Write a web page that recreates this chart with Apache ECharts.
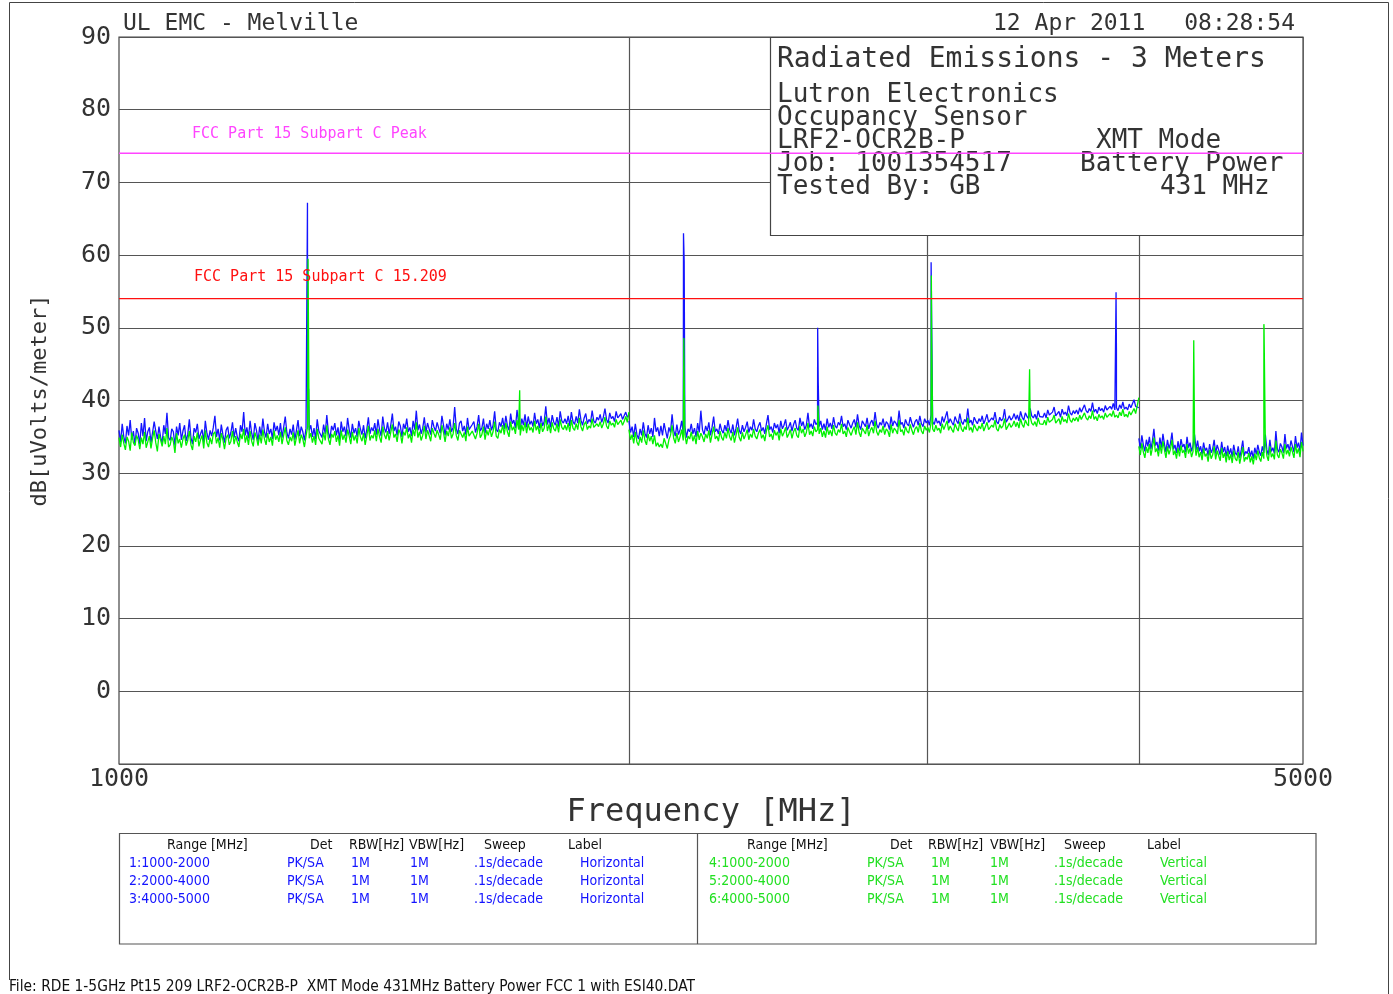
<!DOCTYPE html>
<html>
<head>
<meta charset="utf-8">
<script src="https://cdn.jsdelivr.net/npm/echarts@6/dist/echarts.min.js"></script>
<style>
html,body{margin:0;padding:0;background:#fff;}
#chart{width:1393px;height:994px;}
</style>
</head>
<body>
<div id="chart"></div>
<script>
// ---------------- DATA ----------------
const sweepRanges = [[1000, 2000], [2000, 4000], [4000, 5000]];

// Horizontal polarisation (blue), noise floor per range, dBuV/m
const horizNoise1 = [
35.9,34.3,36.8,35.0,34.1,36.5,35.2,37.3,34.6,35.8,33.9,36.2,35.5,34.0,36.9,35.1,37.6,34.4,35.7,36.3,
34.2,35.6,37.1,35.8,34.7,36.4,35.0,34.1,36.6,35.4,38.3,34.9,34.5,36.1,35.7,33.8,36.4,35.2,36.9,34.6,
35.8,36.6,34.4,35.3,37.4,34.9,34.0,36.2,35.6,36.8,34.7,35.4,36.0,34.3,37.2,35.5,34.6,35.9,35.1,36.3,
37.9,35.0,36.1,34.5,36.7,35.3,34.2,35.9,36.4,34.8,35.6,37.0,34.9,36.2,35.0,34.4,36.6,35.7,38.4,35.2,
36.3,34.8,37.2,35.5,34.6,36.9,35.9,34.4,36.4,35.1,37.5,35.7,34.9,36.8,35.4,36.1,34.7,37.0,35.8,36.5,
35.2,36.9,34.9,36.3,37.8,35.6,34.8,36.1,35.3,36.7,34.6,35.9,37.3,35.1,36.4,35.7,34.5,36.2,39.0,35.9,
36.6,35.0,36.2,34.7,37.4,35.8,36.0,34.9,36.7,35.4,38.0,35.6,34.8,36.5,35.9,36.9,35.2,36.3,34.6,37.1,
35.7,36.4,35.1,37.6,36.0,34.9,36.8,35.5,36.2,35.0,37.2,36.1,35.3,36.6,34.8,36.0,37.7,35.4,36.3,35.8,
36.9,35.3,37.4,36.0,35.1,37.8,36.2,35.6,37.0,35.4,36.6,38.2,35.8,36.4,35.2,37.1,36.5,35.0,36.8,36.1,
37.5,35.7,36.3,35.1,37.2,36.0,38.6,35.9,36.7,35.4,36.2,37.7,35.6,36.9,36.1,35.3,37.3,36.4,35.8,37.0,
36.2,35.5,37.9,36.6,35.2,36.8,36.0,37.4,35.7,36.3,39.1,36.1,35.4,36.9,37.2,35.8,36.5,35.3,37.6,36.0,
35.9,36.7,37.1,35.6,36.4,38.0,35.8,36.2,37.5,35.5,36.8,36.1,37.3,35.9,36.6,38.5,36.0,35.7,37.0,36.4,
37.6,36.1,37.9,36.5,35.9,38.2,36.8,37.3,36.2,38.7,36.9,36.0,37.5,36.6,38.1,36.3,37.8,36.7,37.2,36.4,
38.3,36.8,37.4,36.2,37.9,36.5,37.1,39.2,36.7,37.6,36.3,38.0,37.0,36.6,37.7,36.4,38.5,37.2,36.9,37.5,
36.8,37.9,36.5,38.4,37.1,36.7,37.8,36.9,38.8,37.3,36.6,37.6,38.2,36.8,37.4,37.0,38.6,37.2,36.9,37.7,
37.3,38.1,37.0,37.7,38.9,37.4,36.9,38.3,37.5,37.8,37.1,38.5,37.6,37.9,38.2,37.4,37.9,38.4,37.7,38.0
];
const horizNoise2 = [
37.2,35.6,36.4,35.0,36.8,35.3,34.7,36.1,35.2,37.0,35.5,34.9,36.6,35.4,36.2,35.0,37.6,35.7,36.3,35.1,
36.5,35.2,36.9,35.8,34.8,36.3,35.6,38.1,35.9,35.1,36.7,35.3,36.0,37.2,35.5,36.4,34.9,36.1,35.7,36.8,
35.4,36.2,35.0,36.9,35.6,38.6,36.0,35.3,36.5,35.8,37.0,35.2,36.3,37.8,35.7,36.1,35.4,36.8,35.9,35.5,
36.6,35.8,37.3,36.0,35.5,36.7,35.2,36.2,37.5,35.9,35.4,36.6,35.7,36.3,37.1,35.6,36.4,35.9,37.4,36.1,
35.7,36.5,37.0,35.8,36.3,35.4,36.8,38.0,36.0,36.4,35.6,36.9,36.2,36.7,35.5,37.2,36.1,36.6,37.4,35.9,
36.4,37.0,35.8,36.7,37.3,36.2,35.9,37.6,36.5,37.1,36.0,36.6,38.3,36.3,36.8,36.1,37.4,36.7,37.0,36.4,
37.2,36.0,36.8,35.9,37.5,36.3,36.9,36.1,37.7,36.5,36.2,37.0,36.6,37.9,36.4,36.8,36.0,37.3,36.7,36.2,
36.9,37.4,36.3,38.1,36.6,36.0,37.2,36.8,36.4,37.6,36.1,36.9,37.3,36.5,38.4,36.7,36.2,37.0,36.6,37.5,
36.3,37.1,36.8,36.0,37.8,36.5,37.2,36.9,36.4,38.6,36.7,37.0,36.2,37.4,36.8,36.5,37.7,36.9,36.3,37.1,
37.4,36.6,37.9,36.8,36.4,37.5,36.9,37.3,36.6,38.0,37.1,36.7,37.6,36.9,37.2,36.5,37.8,37.0,36.8,38.5,
36.9,37.5,37.0,36.6,37.8,37.2,36.8,38.2,37.1,36.7,37.4,37.0,38.9,36.9,37.3,36.6,37.7,37.2,36.8,37.5,
37.1,37.9,36.8,37.4,38.1,37.0,36.9,37.6,37.3,38.4,37.1,36.8,37.7,37.2,37.5,38.8,37.0,37.4,37.9,37.3,
37.6,38.2,37.4,38.0,37.2,38.5,37.7,37.3,38.3,37.8,37.5,38.9,37.9,37.6,38.1,37.4,38.6,37.8,38.0,37.7,
38.3,37.6,38.7,38.0,37.8,38.4,39.1,37.9,38.2,38.5,37.7,38.8,38.1,38.4,37.9,39.3,38.3,38.0,38.6,38.2,
38.7,38.1,39.0,38.4,38.2,39.4,38.6,38.3,38.9,38.5,39.7,38.4,38.8,38.2,39.1,38.6,38.9,38.4,39.3,38.7,
38.5,39.2,38.8,39.6,38.7,39.0,38.6,39.4,38.9,39.8,38.8,39.1,38.7,39.5,39.0,38.9,40.1,39.2,39.3,39.0
];
const horizNoise3 = [
34.8,33.4,35.2,33.9,33.0,34.6,33.7,35.0,33.3,34.4,36.1,33.8,34.3,33.1,34.9,33.5,35.4,34.0,32.9,34.6,
33.4,34.1,35.6,33.3,33.9,32.8,34.4,33.1,34.7,33.6,34.0,32.9,35.0,33.5,34.2,33.0,33.8,35.3,33.2,34.5,
33.0,33.7,32.6,34.2,33.1,33.5,32.4,34.0,32.8,33.3,34.6,32.7,33.9,33.2,32.5,34.3,32.9,33.6,32.3,33.8,
32.6,33.4,32.2,33.9,32.8,32.5,33.7,32.1,33.2,34.5,32.4,33.0,32.7,33.6,32.3,33.1,32.0,33.5,32.6,33.9,
32.9,32.4,33.7,32.8,35.3,33.2,32.5,34.6,33.0,33.5,32.7,35.8,33.3,32.9,34.1,33.6,32.8,35.4,33.4,34.0,
33.1,34.5,33.7,32.9,35.1,33.5,34.2,33.0,35.6,33.8
];

// Vertical polarisation (green)
const vertNoise1 = [
34.9,33.6,35.3,34.1,33.2,35.0,34.4,33.1,35.6,34.2,33.8,35.2,34.6,33.3,34.9,34.0,35.7,33.5,34.3,35.1,
33.4,34.8,35.9,34.2,33.0,35.4,34.6,33.7,35.1,34.0,36.2,33.6,33.9,35.0,34.4,32.8,35.5,34.1,34.7,33.5,
34.7,35.3,33.8,34.5,35.8,33.9,33.2,35.1,34.3,35.6,33.7,34.6,35.2,33.4,35.9,34.2,33.6,34.9,34.0,35.4,
35.7,34.1,34.9,33.5,35.5,34.6,33.3,34.8,35.3,33.9,34.4,35.8,34.0,35.1,34.3,33.6,35.4,34.7,36.1,34.2,
35.2,33.9,35.8,34.4,33.7,35.6,34.9,33.8,35.3,34.1,36.0,34.7,33.9,35.5,34.3,35.0,33.8,35.9,34.6,35.2,
34.3,35.7,34.0,35.2,36.3,34.5,33.9,35.0,34.4,35.6,33.8,34.9,35.9,34.1,35.3,34.7,33.6,35.1,36.4,34.8,
35.5,34.2,35.1,33.9,36.1,34.8,35.0,34.0,35.6,34.5,36.6,34.7,33.9,35.4,34.9,35.8,34.3,35.2,33.8,35.9,
34.6,35.3,34.2,36.0,35.1,34.0,35.7,34.5,35.2,34.1,36.2,35.0,34.4,35.5,33.9,35.1,36.5,34.5,35.2,34.8,
35.9,34.4,36.1,35.0,34.2,36.4,35.3,34.7,35.8,34.5,35.6,36.7,34.9,35.4,34.3,36.0,35.5,34.1,35.7,35.2,
36.3,34.8,35.4,34.2,36.0,35.1,37.0,34.9,35.7,34.5,35.2,36.5,34.7,35.9,35.2,34.4,36.2,35.5,34.9,35.9,
35.3,34.6,36.6,35.6,34.3,35.8,35.1,36.3,34.8,35.4,36.9,35.2,34.5,35.9,36.1,34.9,35.6,34.4,36.4,35.1,
35.0,35.8,36.0,34.7,35.5,36.8,34.9,35.3,36.4,34.6,35.9,35.2,36.2,35.0,35.7,37.1,35.1,34.8,36.0,35.5,
36.6,35.3,36.9,35.7,35.0,37.1,35.9,36.4,35.4,37.3,36.0,35.2,36.6,35.8,37.0,35.5,36.8,35.9,36.3,35.6,
37.2,35.9,36.5,35.4,36.9,35.7,36.2,37.8,35.8,36.7,35.5,37.0,36.1,35.8,36.8,35.6,37.4,36.3,36.0,36.6,
35.9,36.9,35.7,37.3,36.2,35.9,36.8,36.0,37.6,36.4,35.8,36.7,37.1,36.0,36.5,36.2,37.5,36.3,36.1,36.8,
36.4,37.1,36.2,36.8,37.7,36.5,36.1,37.2,36.6,36.9,36.3,37.4,36.7,37.0,37.3,36.6,37.1,37.8,37.0,38.4
];
const vertNoise2 = [
36.0,34.6,35.3,34.1,35.7,34.3,33.8,35.0,34.2,35.9,34.5,33.9,35.4,34.4,35.1,34.0,35.2,33.7,34.2,33.6,
34.0,33.5,34.8,34.1,33.4,34.6,35.2,36.6,34.8,34.1,35.5,34.3,35.0,36.0,34.5,35.3,34.0,35.1,34.7,35.7,
34.4,35.2,34.0,35.8,34.6,35.5,35.0,34.3,35.4,34.8,35.9,34.2,35.3,36.4,34.7,35.1,34.4,35.8,34.9,34.5,
35.6,34.8,36.2,35.0,34.5,35.7,34.2,35.2,36.3,34.9,34.4,35.6,34.7,35.3,36.0,34.6,35.4,34.9,36.1,35.1,
34.7,35.5,36.0,34.8,35.3,34.4,35.8,36.6,35.0,35.4,34.6,35.9,35.2,35.7,34.5,36.1,35.1,35.6,36.3,34.9,
35.4,36.0,34.8,35.7,36.2,35.2,34.9,36.5,35.5,36.1,35.0,35.6,36.9,35.3,35.8,35.1,36.4,35.7,36.0,35.4,
36.2,35.0,35.8,34.9,36.4,35.3,35.9,35.1,36.6,35.5,35.2,36.0,35.6,36.8,35.4,35.8,35.0,36.3,35.7,35.2,
35.9,36.4,35.3,37.0,35.6,35.0,36.2,35.8,35.4,36.6,35.1,35.9,36.3,35.5,37.2,35.7,35.2,36.0,35.6,36.5,
35.3,36.1,35.8,35.0,36.7,35.5,36.2,35.9,35.4,37.3,35.7,36.0,35.2,36.4,35.8,35.5,36.7,35.9,35.3,36.1,
36.4,35.6,36.9,35.8,35.4,36.5,35.9,36.3,35.6,36.9,36.1,35.7,36.6,35.9,36.2,35.5,36.8,36.0,35.8,37.2,
35.9,36.5,36.0,35.6,36.8,36.2,35.8,37.1,36.1,35.7,36.4,36.0,37.6,35.9,36.3,35.6,36.7,36.2,35.8,36.5,
36.1,36.9,35.8,36.4,37.0,36.0,35.9,36.6,36.3,37.3,36.1,35.8,36.7,36.2,36.5,37.5,36.0,36.4,36.9,36.3,
36.6,37.2,36.4,37.0,36.2,37.5,36.7,36.3,37.3,36.8,36.5,37.8,36.9,36.6,37.1,36.4,37.6,36.8,37.0,36.7,
37.3,36.6,37.7,37.0,36.8,37.4,38.0,36.9,37.2,37.5,36.7,37.8,37.1,37.4,36.9,38.2,37.3,37.0,37.6,37.2,
37.7,37.1,38.0,37.4,37.2,38.3,37.6,37.3,37.9,37.5,38.6,37.4,37.8,37.2,38.1,37.6,37.9,37.4,38.3,37.7,
37.5,38.2,37.8,38.6,37.7,38.0,37.6,38.4,37.9,38.8,37.8,38.1,37.7,38.5,38.0,37.9,38.9,38.2,39.3,40.4
];
const vertNoise3 = [
33.7,32.5,34.1,32.9,32.1,33.6,32.8,34.0,32.4,33.5,34.9,32.9,33.4,32.3,34.0,32.7,34.4,33.2,32.1,33.7,
32.6,33.3,34.6,32.5,33.1,32.0,33.5,32.3,33.8,32.8,33.2,32.1,34.0,32.7,33.4,32.2,33.0,34.3,32.4,33.6,
32.2,32.9,31.8,33.4,32.3,32.7,31.6,33.2,32.0,32.5,33.7,31.9,33.1,32.4,31.7,33.5,32.1,32.8,31.5,33.0,
31.8,32.6,31.4,33.1,32.0,31.7,32.9,31.3,32.4,33.6,31.6,32.2,31.9,32.8,31.5,32.3,31.2,32.7,31.8,33.1,
32.1,31.6,32.9,32.0,34.2,32.4,31.7,33.7,32.2,32.7,31.9,34.5,32.5,32.1,33.3,32.8,32.0,34.0,32.6,33.2,
32.3,33.6,32.9,32.1,34.0,32.7,33.4,32.2,34.3,33.0
];

// Harmonic peaks [MHz, dBuV/m]
const horizPeaks = [[1292, 67.2], [1294, 41.6], [2154, 63.0], [2156, 59.2], [2585, 50.0], [2587, 42.5],
                    [3016, 59.0], [3878, 54.9], [3880, 47.0]];
const vertPeaks  = [[1293, 59.5], [1724, 41.4], [2155, 48.6], [2156, 43.2], [2586, 39.3], [3017, 57.2],
                    [3018, 49.5], [3448, 44.3], [4310, 48.3], [4741, 50.5], [4742, 50.2]];

const limitPeak = 74;      // FCC Part 15 Subpart C Peak
const limit15209 = 54;     // FCC Part 15 Subpart C 15.209
const freqGridLines = [2000, 3000, 4000];
const xTickLabels = [1000, 5000];

const rangeNamesH = ['1:1000-2000', '2:2000-4000', '3:4000-5000'];
const rangeNamesV = ['4:1000-2000', '5:2000-4000', '6:4000-5000'];
const tableHeader = ['Range [MHz]', 'Det', 'RBW[Hz]', 'VBW[Hz]', 'Sweep', 'Label'];
const rowsH = rangeNamesH.map(r => [r, 'PK/SA', '1M', '1M', '.1s/decade', 'Horizontal']);
const rowsV = rangeNamesV.map(r => [r, 'PK/SA', '1M', '1M', '.1s/decade', 'Vertical']);

const infoLines = ['Lutron Electronics', 'Occupancy Sensor', 'LRF2-OCR2B-P', 'Job: 1001354517', 'Tested By: GB'];
const infoRight = ['XMT Mode', 'Battery Power', '431 MHz'];

// ---------------- BUILD ----------------
function sweep(range, noise, peaks) {
  const lo = range[0], hi = range[1], n = noise.length;
  const pts = noise.map((v, i) => [lo * Math.pow(hi / lo, i / (n - 1)), v]);
  peaks.forEach(p => { if (p[0] > lo && p[0] < hi) pts.push(p); });
  pts.sort((a, b) => a[0] - b[0]);
  return pts;
}

const BLUE = '#1414ff', GREEN = '#00f000', MAG = '#ff44ff', RED = '#ff1010', GRID = '#555555';
const MONO = '"DejaVu Sans Mono", monospace';
const NARROW = '"Liberation Sans Narrow", "DejaVu Sans Condensed", "Liberation Sans", sans-serif';
const INK = '#333';

const horizSets = [horizNoise1, horizNoise2, horizNoise3];
const vertSets = [vertNoise1, vertNoise2, vertNoise3];

const series = [];
horizSets.forEach((arr, k) => {
  series.push({
    name: rangeNamesH[k], type: 'line', data: sweep(sweepRanges[k], arr, horizPeaks),
    symbol: 'none', lineStyle: { color: BLUE, width: 1.3 }, z: 2, animation: false
  });
});
vertSets.forEach((arr, k) => {
  series.push({
    name: rangeNamesV[k], type: 'line', data: sweep(sweepRanges[k], arr, vertPeaks),
    symbol: 'none', lineStyle: { color: GREEN, width: 1.3 }, z: 2, animation: false
  });
});
series.push({
  name: 'FCC Peak', type: 'line', data: [[1000, limitPeak], [5000, limitPeak]],
  symbol: 'none', lineStyle: { color: MAG, width: 1.4 }, z: 6, animation: false
});
series.push({
  name: 'FCC 15.209', type: 'line', data: [[1000, limit15209], [5000, limit15209]],
  symbol: 'none', lineStyle: { color: RED, width: 1.2 }, z: 6, animation: false
});

function txt(text, x, y, font, fill, z) {
  return { type: 'text', x: x, y: y, z: z || 10, silent: true,
    style: { text: text, font: font, fill: fill, align: 'left', textAlign: 'left',
             verticalAlign: 'middle', textVerticalAlign: 'middle' } };
}

const graphics = [];
// outer frame
graphics.push({ type: 'polyline', z: 1, silent: true,
  shape: { points: [[9.5, 980], [9.5, 2.5], [1388.5, 2.5], [1388.5, 994]] },
  style: { stroke: '#444', lineWidth: 1, fill: null } });
// info box
graphics.push({ type: 'rect', z: 3, silent: true,
  shape: { x: 770.5, y: 37.5, width: 532.5, height: 198 },
  style: { fill: '#fff', stroke: '#444', lineWidth: 1.2 } });
graphics.push(txt('Radiated Emissions - 3 Meters', 777, 60, '28px ' + MONO, INK, 4));
const infoY = [95, 118, 141, 164, 187];
infoLines.forEach((t, i) => graphics.push(txt(t, 777, infoY[i], '26px ' + MONO, INK, 4)));
const infoRX = [1096, 1080, 1160];
infoRight.forEach((t, i) => graphics.push(txt(t, infoRX[i], infoY[i + 2], '26px ' + MONO, INK, 4)));
// limit labels
graphics.push(txt('FCC Part 15 Subpart C Peak', 192, 134, '15px ' + MONO, MAG, 7));
graphics.push(txt('FCC Part 15 Subpart C 15.209', 194, 277, '15px ' + MONO, RED, 7));
// table
graphics.push({ type: 'rect', z: 1, silent: true,
  shape: { x: 119.5, y: 833.5, width: 1196.5, height: 110.5 },
  style: { fill: null, stroke: '#555', lineWidth: 1.2 } });
graphics.push({ type: 'line', z: 1, silent: true,
  shape: { x1: 697.5, y1: 833.5, x2: 697.5, y2: 944 },
  style: { stroke: '#555', lineWidth: 1.2 } });
const hdrXL = [167, 310, 349, 409, 484, 568], rowXL = [129, 287, 351, 410, 474, 580];
const hdrXR = [747, 890, 928, 990, 1064, 1147], rowXR = [709, 867, 931, 990, 1054, 1160];
const rowY = [863, 881, 899];
const TF = '14px ' + NARROW;
tableHeader.forEach((t, i) => {
  graphics.push(txt(t, hdrXL[i], 845, TF, '#111'));
  graphics.push(txt(t, hdrXR[i], 845, TF, '#111'));
});
rowsH.forEach((row, r) => row.forEach((t, i) => graphics.push(txt(t, rowXL[i], rowY[r], TF, BLUE))));
rowsV.forEach((row, r) => row.forEach((t, i) => graphics.push(txt(t, rowXR[i], rowY[r], TF, '#22e022'))));
// footer
graphics.push(txt('File: RDE 1-5GHz Pt15 209 LRF2-OCR2B-P  XMT Mode 431MHz Battery Power FCC 1 with ESI40.DAT',
  9, 987, '15.4px ' + NARROW, '#111'));

const chart = echarts.init(document.getElementById('chart'), null, { renderer: 'canvas' });
chart.setOption({
  animation: false,
  backgroundColor: '#fff',
  title: [
    { text: 'UL EMC - Melville', left: 118, top: 8,
      textStyle: { fontFamily: MONO, fontSize: 23, fontWeight: 'normal', color: INK } },
    { text: '12 Apr 2011', left: 988, top: 8,
      textStyle: { fontFamily: MONO, fontSize: 23, fontWeight: 'normal', color: INK } },
    { text: '08:28:54', right: 93, top: 8,
      textStyle: { fontFamily: MONO, fontSize: 23, fontWeight: 'normal', color: INK } }
  ],
  grid: { left: 119, top: 37, right: 90, bottom: 230, show: true, borderColor: '#444', borderWidth: 1.2,
          backgroundColor: 'transparent', outerBoundsMode: 'none', containLabel: false },
  xAxis: {
    type: 'log', logBase: 10, min: 1000, max: 5000,
    axisLine: { show: false },
    axisTick: { show: false, customValues: freqGridLines },
    splitLine: { show: true, lineStyle: { color: GRID, width: 1.2 } },
    axisLabel: { customValues: xTickLabels, formatter: v => String(Math.round(v)),
                 fontFamily: MONO, fontSize: 25, color: INK, margin: 3,
                 showMinLabel: true, showMaxLabel: true },
    name: 'Frequency [MHz]', nameLocation: 'middle', nameGap: 28,
    nameTextStyle: { fontFamily: MONO, fontSize: 32, color: INK }
  },
  yAxis: {
    type: 'value', min: -10, max: 90, interval: 10,
    axisLine: { show: false }, axisTick: { show: false },
    splitLine: { lineStyle: { color: GRID, width: 1.2 } },
    axisLabel: { formatter: v => (v < 0 ? '' : String(v)), fontFamily: MONO, fontSize: 25, color: INK, margin: 8 },
    name: 'dB[uVolts/meter]', nameLocation: 'middle', nameGap: 68, nameRotate: 90,
    nameTextStyle: { fontFamily: MONO, fontSize: 22, color: INK }
  },
  series: series,
  graphic: graphics
});
</script>
</body>
</html>
